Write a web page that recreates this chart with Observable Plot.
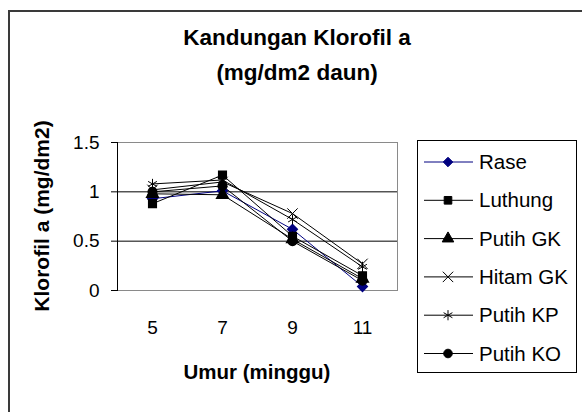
<!DOCTYPE html>
<html>
<head>
<meta charset="utf-8">
<script src="https://cdn.jsdelivr.net/npm/d3@7"></script>
<script src="https://cdn.jsdelivr.net/npm/@observablehq/plot@0.6"></script>
<style>
  html, body { margin: 0; padding: 0; background: #fff; }
  #wrap { position: relative; width: 582px; height: 412px; overflow: hidden; background: #fff;
          font-family: "Liberation Sans", Arial, sans-serif; color: #000; }
  .abs { position: absolute; }
  #frame { left: 8px; top: 10px; width: 700px; height: 600px; border-left: 2px solid #3a3a3a; border-top: 2px solid #3a3a3a; }
  #title { left: 97px; width: 400px; top: 20px; text-align: center; font-weight: bold; font-size: 22.5px; line-height: 35px; }
  #ytitle { left: 42px; top: 216px; transform: translate(-50%, -50%) rotate(-90deg); white-space: nowrap; font-weight: bold; font-size: 21px; }
  #xtitle { left: 257px; top: 372px; transform: translate(-50%, -50%); white-space: nowrap; font-weight: bold; font-size: 20.5px; }
  #chart { left: 0; top: 0; }
  #legend { left: 417px; top: 140px; }
</style>
</head>
<body>
<div id="wrap">
  <div id="frame" class="abs"></div>
  <div id="title" class="abs">Kandungan Klorofil a<br>(mg/dm2 daun)</div>
  <div id="chart" class="abs"></div>
  <div id="ytitle" class="abs">Klorofil a (mg/dm2)</div>
  <div id="xtitle" class="abs">Umur (minggu)</div>
  <div id="legend" class="abs"></div>
</div>
<script>
// ---- data ----
const weeks = [5, 7, 9, 11];
const seriesNames = ["Rase", "Luthung", "Putih GK", "Hitam GK", "Putih KP", "Putih KO"];
const rase    = [0.93, 1.01, 0.62, 0.04];
const luthung = [0.88, 1.17, 0.55, 0.15];
const putihGK = [0.98, 0.97, 0.52, 0.12];
const hitamGK = [1.02, 1.10, 0.78, 0.27];
const putihKP = [1.08, 1.12, 0.72, 0.24];
const putihKO = [1.00, 1.06, 0.50, 0.10];
const yTicks = [0, 0.5, 1, 1.5];

// ---- styling ----
const seriesValues = [rase, luthung, putihGK, hitamGK, putihKP, putihKO];
const colors = ["#000080", "#000", "#000", "#000", "#000", "#000"];
const symbols = ["diamond2", "square", "triangle", "times", "asterisk", "circle"];
const hollow = new Set(["Hitam GK", "Putih KP"]);

const data = seriesNames.flatMap((s, i) =>
  weeks.map((w, j) => ({series: s, week: w, value: seriesValues[i][j]})));

const chart = Plot.plot({
  width: 582,
  height: 412,
  marginLeft: 117,
  marginRight: 185,
  marginTop: 142,
  marginBottom: 122,
  style: {fontFamily: "'Liberation Sans', Arial, sans-serif", background: "transparent", color: "#000"},
  x: {type: "point", domain: weeks, padding: 0.5},
  y: {domain: [0, 1.5]},
  color: {domain: seriesNames, range: colors},
  symbol: {domain: seriesNames, range: symbols},
  marks: [
    Plot.frame({stroke: "#8a8a8a"}),
    Plot.ruleY([0.5, 1], {stroke: "#000"}),
    Plot.frame({anchor: "left", stroke: "#000"}),
    Plot.axisY({ticks: yTicks, tickSize: 6, tickPadding: 12, fontSize: 19, tickFormat: d => String(d), label: null}),
    Plot.axisX({tickSize: 0, tickPadding: 30, fontSize: 19, label: null}),
    Plot.line(data, {x: "week", y: "value", z: "series", stroke: "series", strokeWidth: 1}),
    Plot.dot(data.filter(d => !hollow.has(d.series)), {x: "week", y: "value", symbol: "series", fill: "series", stroke: "series", r: 4.3}),
    Plot.dot(data.filter(d => hollow.has(d.series)), {x: "week", y: "value", symbol: "series", stroke: "series", fill: "none", r: 4.8, strokeWidth: 1})
  ]
});
document.getElementById("chart").appendChild(chart);

// ---- legend ----
const symbolMap = {diamond2: d3.symbolDiamond2, square: d3.symbolSquare, triangle: d3.symbolTriangle,
                   times: d3.symbolTimes, asterisk: d3.symbolAsterisk, circle: d3.symbolCircle};
const lw = 160, lh = 233;
const lsvg = d3.select("#legend").append("svg").attr("width", lw).attr("height", lh);
lsvg.append("rect").attr("x", 0.5).attr("y", 0.5).attr("width", lw - 1).attr("height", lh - 1)
  .attr("fill", "#fff").attr("stroke", "#000");
seriesNames.forEach((s, i) => {
  const y = 22 + i * 38.3;
  const g = lsvg.append("g").attr("transform", `translate(0,${y})`);
  g.append("line").attr("x1", 7).attr("x2", 56).attr("y1", 0).attr("y2", 0).attr("stroke", colors[i]);
  const isHollow = hollow.has(s);
  g.append("path").attr("transform", "translate(31,0)")
    .attr("d", d3.symbol(symbolMap[symbols[i]], Math.PI * (isHollow ? 4.8 : 4.3) ** 2)())
    .attr("fill", isHollow ? "none" : colors[i]).attr("stroke", colors[i]);
  g.append("text").attr("x", 62).attr("y", 0).attr("dy", "0.35em")
    .attr("font-family", "'Liberation Sans', Arial, sans-serif").attr("font-size", 20.5)
    .text(s);
});
</script>
</body>
</html>
